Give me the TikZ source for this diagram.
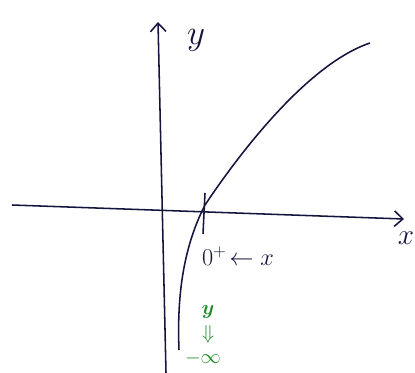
\documentclass[tikz,border=0pt]{standalone}
\usepackage{amsmath}
\usetikzlibrary{arrows.meta}
\definecolor{inkblue}{RGB}{20,20,60}
\definecolor{inkgreen}{RGB}{30,140,40}
\tikzset{
  axisline/.style={draw=inkblue, line width=1.1pt, -{Straight Barb[length=6pt,width=11pt]}},
  inkline/.style={draw=inkblue, line width=1.1pt},
  label/.style={text=inkblue, font=\LARGE},
  limit/.style={text=inkgreen, font=\Large\bfseries, inner sep=0pt}
}
\begin{document}
\begin{tikzpicture}[x=0.025cm, y=-0.025cm]
				\useasboundingbox (0,0) rectangle (415,373);

				% Axes
				\coordinate (ybot) at (166,373);
				\coordinate (ytop) at (158,22);
				\coordinate (xleft) at (12,205);
				\coordinate (xright) at (404,219);
				\draw[axisline] (ybot) -- (ytop);
				\draw[axisline] (xleft) -- (xright);
				\node[label, font=\Huge] (ylab) at (196,40) {$y$};
				\node[label, font=\huge] (xlab) at (406,238) {$x$};

				% Tick at the crossing
				\coordinate (ticktop) at (205,193);
				\coordinate (tickbot) at (203,234);
				\draw[inkline] (ticktop) -- (tickbot);
				\node[label] (lim) at (238,256) {$0^+\!\leftarrow x$};

				% Curve
				\draw[inkline] (179,350) .. controls (177,300) and (182,250) .. (205,205)
				  .. controls (235,160) and (305,65) .. (370,43);

				% Limit at the bottom
				\node[limit] (ylim) at (208,312) {$\boldsymbol{y}$};
				\node[limit] (down) at (208,334) {$\Downarrow$};
				\node[limit] (minf) at (203,358) {$-\infty$};
			\end{tikzpicture}
\end{document}
